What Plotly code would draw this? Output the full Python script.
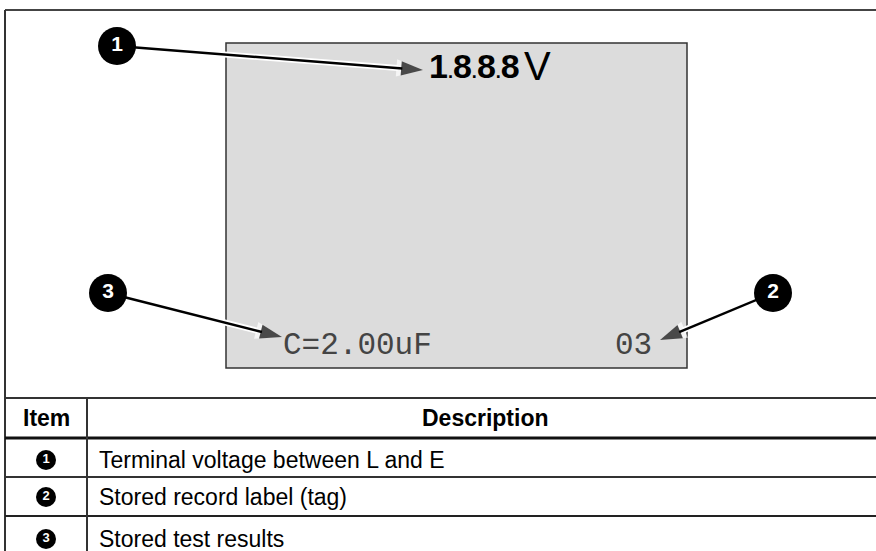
import plotly.graph_objects as go

# ---- content ----
title_text = "Table 9. Recalled Stored Results"
display_main_digits = ["1", "8", "8", "8"]
display_main_unit = "V"
display_result = "C=2.00uF"
display_tag = "03"

callout_labels = ["1", "2", "3"]
callout_x = [117, 773, 108]
callout_y = [46, 293, 293]
arrow_tip_x = [423, 660, 282]
arrow_tip_y = [70, 340, 337]

header_labels = ["Item", "Description"]
item_labels = ["1", "2", "3"]
descriptions = [
    "Terminal voltage between L and E",
    "Stored record label (tag)",
    "Stored test results",
]
row_y = [460, 497, 539]

W, H = 876, 551
fig = go.Figure()

# ---- arrows (white halo + black line with arrow marker) ----
for i in range(len(callout_labels)):
    xs = [callout_x[i], arrow_tip_x[i]]
    ys = [callout_y[i], arrow_tip_y[i]]
    fig.add_trace(go.Scatter(
        x=xs, y=ys, mode="lines+markers",
        line=dict(color="white", width=6),
        marker=dict(symbol=["circle", "arrow"], size=[0, 28], color="white",
                    angleref="previous", line=dict(width=0)),
        hoverinfo="skip", showlegend=False))
    fig.add_trace(go.Scatter(
        x=xs, y=ys, mode="lines+markers",
        line=dict(color="black", width=2.5),
        marker=dict(symbol=["circle", "arrow"], size=[0, 23], color="black",
                    angleref="previous", line=dict(width=0)),
        hoverinfo="skip", showlegend=False))

# ---- callout circles ----
fig.add_trace(go.Scatter(
    x=callout_x, y=callout_y, mode="markers+text",
    text=[f"<b>{t}</b>" for t in callout_labels],
    textposition="middle center",
    textfont=dict(family="Liberation Sans", size=21, color="white"),
    marker=dict(size=38, color="black", line=dict(width=0)),
    hoverinfo="skip", showlegend=False))

# ---- table item circles ----
fig.add_trace(go.Scatter(
    x=[46] * len(item_labels), y=row_y, mode="markers+text",
    text=[f"<b>{t}</b>" for t in item_labels],
    textposition="middle center",
    textfont=dict(family="Liberation Sans", size=13, color="white"),
    marker=dict(size=20, color="black", line=dict(width=0)),
    hoverinfo="skip", showlegend=False))

shapes = []
# outer frame
shapes.append(dict(type="line", x0=5, x1=W + 5, y0=10, y1=10,
                   line=dict(color="#444", width=2), layer="below"))
shapes.append(dict(type="line", x0=5, x1=5, y0=10, y1=H + 5,
                   line=dict(color="#333", width=2), layer="below"))
# LCD screen
shapes.append(dict(type="rect", x0=226, x1=687, y0=43, y1=368,
                   fillcolor="#dcdcdc", line=dict(color="#333", width=1.5),
                   layer="below"))
# table lines
for yy, wd, col in [(398, 2, "#333"), (438, 3, "#111"), (477, 2, "#333"), (516, 2, "#222")]:
    shapes.append(dict(type="line", x0=5, x1=W + 5, y0=yy, y1=yy,
                       line=dict(color=col, width=wd), layer="below"))
shapes.append(dict(type="line", x0=87, x1=87, y0=398, y1=H + 5,
                   line=dict(color="#333", width=2), layer="below"))

annotations = []
# title (mostly cut off at top)
annotations.append(dict(x=447, y=3, xref="x", yref="y", text=f"<b>{title_text}</b>",
                        showarrow=False, xanchor="center", yanchor="bottom",
                        borderpad=0,
                        font=dict(family="Liberation Sans", size=16, color="#666")))
# LCD texts
dot = "<span style='font-size:18px'>.</span>"
main_txt = "<b>" + dot.join(display_main_digits) + "</b>"
annotations.append(dict(x=427, y=66, xref="x", yref="y", text=main_txt,
                        showarrow=False, xanchor="left", yanchor="middle",
                        font=dict(family="Liberation Sans", size=34, color="black")))
annotations.append(dict(x=522, y=66, xref="x", yref="y", text=display_main_unit,
                        showarrow=False, xanchor="left", yanchor="middle",
                        font=dict(family="Liberation Sans", size=40, color="black")))
annotations.append(dict(x=281, y=345, xref="x", yref="y", text=display_result,
                        showarrow=False, xanchor="left", yanchor="middle",
                        font=dict(family="Liberation Mono", size=31, color="#444")))
annotations.append(dict(x=633, y=345, xref="x", yref="y", text=display_tag,
                        showarrow=False, xanchor="center", yanchor="middle",
                        font=dict(family="Liberation Mono", size=31, color="#444")))
# table header
annotations.append(dict(x=46, y=418, xref="x", yref="y", text=f"<b>{header_labels[0]}</b>",
                        showarrow=False, xanchor="center", yanchor="middle",
                        font=dict(family="Liberation Sans", size=23, color="black")))
annotations.append(dict(x=485, y=418, xref="x", yref="y", text=f"<b>{header_labels[1]}</b>",
                        showarrow=False, xanchor="center", yanchor="middle",
                        font=dict(family="Liberation Sans", size=23, color="black")))
for d, yy in zip(descriptions, row_y):
    annotations.append(dict(x=97, y=yy, xref="x", yref="y", text=d,
                            showarrow=False, xanchor="left", yanchor="middle",
                            font=dict(family="Liberation Sans", size=23, color="black")))

fig.update_layout(
    width=W, height=H,
    margin=dict(l=0, r=0, t=0, b=0),
    paper_bgcolor="white", plot_bgcolor="white",
    xaxis=dict(range=[0, W], visible=False, fixedrange=True),
    yaxis=dict(range=[H, 0], visible=False, fixedrange=True),
    shapes=shapes, annotations=annotations,
    showlegend=False,
)

fig.write_html(
    "out.html",
    config={"displayModeBar": False},
    post_script="document.body.style.margin='0';document.body.style.overflow='hidden';",
)
